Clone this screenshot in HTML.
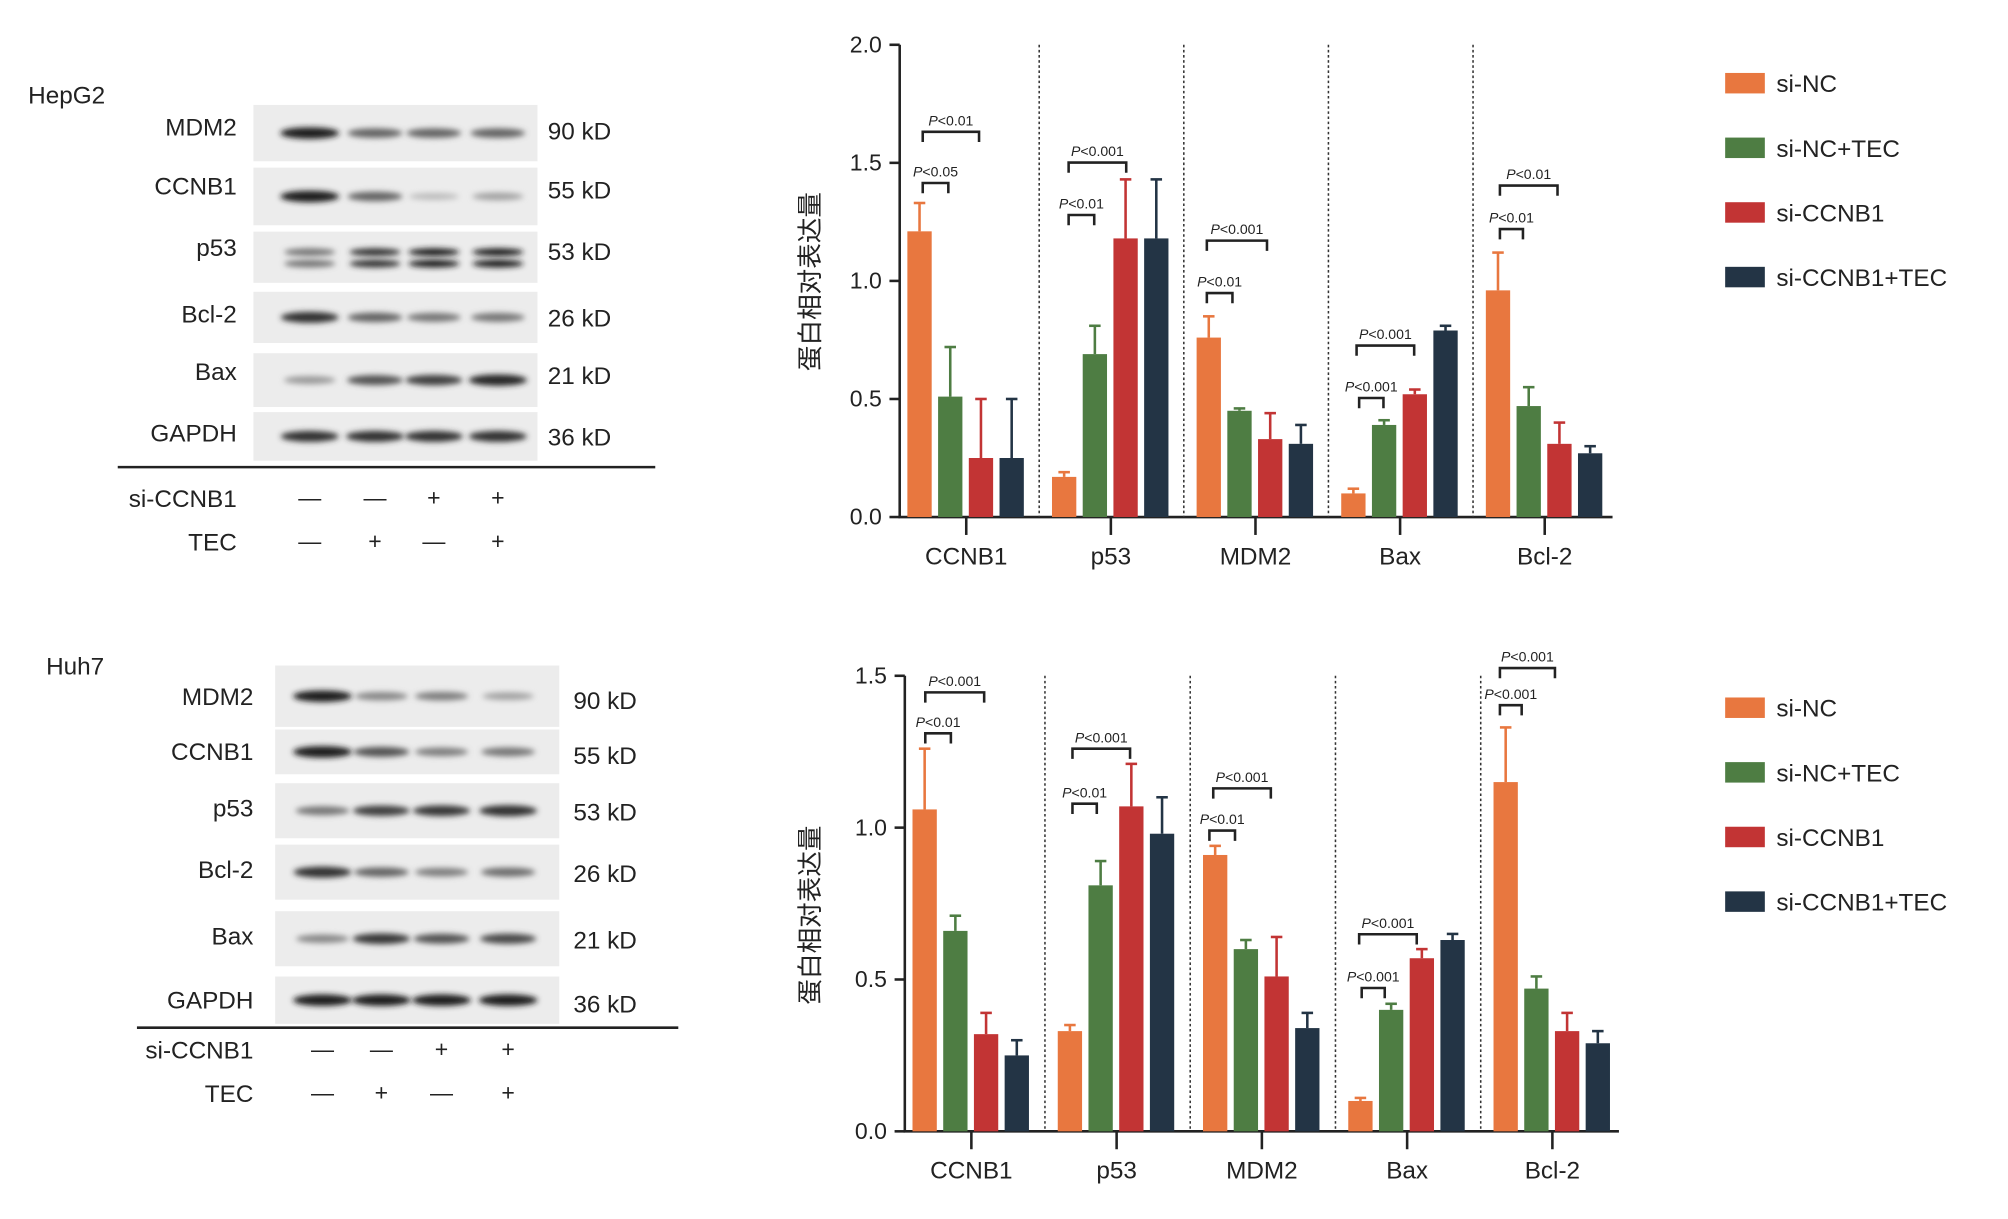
<!DOCTYPE html>
<html><head><meta charset="utf-8"><style>
html,body{margin:0;padding:0;background:#fff;width:2008px;height:1219px;overflow:hidden}
svg{display:block}
text{font-family:"Liberation Sans","Noto Sans CJK SC",sans-serif;fill:#222}
</style></head><body>
<svg id="s" width="2008" height="1219" viewBox="0 0 1569 952.5" xmlns="http://www.w3.org/2000/svg">
<defs><filter id="bl" x="-50%" y="-100%" width="200%" height="300%"><feGaussianBlur stdDeviation="2.2"/></filter></defs>
</svg>
<script>
const S=document.getElementById('s');let h='';
const C=['#E8773F','#4E7D43','#C23434','#233445'];
function t(x,y,s,sz,anc,extra){h+=`<text x="${x}" y="${y}" font-size="${sz}" text-anchor="${anc||'start'}" ${extra||''}>${s}</text>`;}
function l(x1,y1,x2,y2,w,c,d){h+=`<line x1="${x1}" y1="${y1}" x2="${x2}" y2="${y2}" stroke="${c||'#222'}" stroke-width="${w||1.5}" ${d?'stroke-dasharray="'+d+'"':''}/>`;}
function blot(cfg){
 t(cfg.lx,cfg.ly,cfg.name,19);
 cfg.rows.forEach(r=>{
  h+=`<rect x="${cfg.bx}" y="${r.y}" width="${cfg.bw}" height="${r.h}" fill="#ececec"/>`;
  const cy=r.y+r.h*0.5;
  r.v.forEach((v,i)=>{const x=cfg.lanes[i];const c=Math.round(205-175*v);
   if(r.dbl){h+=`<ellipse cx="${x}" cy="${cy-4}" rx="20" ry="3" fill="rgb(${c},${c},${c})" filter="url(#bl)"/><ellipse cx="${x}" cy="${cy+5}" rx="20" ry="3" fill="rgb(${c},${c},${c})" filter="url(#bl)"/>`;}
   else h+=`<ellipse cx="${x}" cy="${cy}" rx="${19+v*4}" ry="${2.5+v*2}" fill="rgb(${c},${c},${c})" filter="url(#bl)"/>`;});
  t(cfg.tx,r.ty,r.n,19,'end');t(cfg.kx,r.ty+3,r.kd,19);
 });
 l(cfg.x1,cfg.hy,cfg.x2,cfg.hy,2);
 t(cfg.tx,cfg.sy+7,'si-CCNB1',19,'end');t(cfg.tx,cfg.sy+41,'TEC',19,'end');
 const s1=['—','—','+','+'],s2=['—','+','—','+'];
 cfg.lanes.forEach((x,i)=>{t(x,cfg.sy+6,s1[i],18,'middle');t(x,cfg.sy+40,s2[i],18,'middle');});
}
blot({name:'HepG2',lx:22,ly:81,bx:198,bw:222,tx:185,kx:428,lanes:[242,293,339,389],hy:365,x1:92,x2:512,sy:389,rows:[
 {n:'MDM2',kd:'90 kD',y:82,h:44,ty:106,v:[1,.6,.6,.6]},
 {n:'CCNB1',kd:'55 kD',y:131,h:45,ty:152,v:[1,.6,.1,.25]},
 {n:'p53',kd:'53 kD',y:181,h:40,ty:200,v:[.5,.9,1,1],dbl:1},
 {n:'Bcl-2',kd:'26 kD',y:228,h:40,ty:252,v:[.9,.6,.5,.5]},
 {n:'Bax',kd:'21 kD',y:276,h:42,ty:297,v:[.3,.7,.8,.95]},
 {n:'GAPDH',kd:'36 kD',y:322,h:38,ty:345,v:[.9,.9,.9,.9]}]});
blot({name:'Huh7',lx:36,ly:527,bx:215,bw:222,tx:198,kx:448,lanes:[252,298,345,397],hy:803,x1:107,x2:530,sy:820,rows:[
 {n:'MDM2',kd:'90 kD',y:520,h:48,ty:551,v:[1,.4,.45,.25]},
 {n:'CCNB1',kd:'55 kD',y:570,h:35,ty:594,v:[1,.7,.45,.5]},
 {n:'p53',kd:'53 kD',y:612,h:43,ty:638,v:[.5,.8,.85,.9]},
 {n:'Bcl-2',kd:'26 kD',y:660,h:43,ty:686,v:[.9,.6,.45,.55]},
 {n:'Bax',kd:'21 kD',y:712,h:43,ty:738,v:[.4,.85,.7,.75]},
 {n:'GAPDH',kd:'36 kD',y:763,h:37,ty:788,v:[1,1,1,1]}]});
function chart(c){
 const Y=v=>c.y0-v*c.u;
 l(c.ax,c.ytop,c.ax,c.y0,2);l(c.ax-1,c.y0,c.xe,c.y0,2);
 c.ticks.forEach(v=>{l(c.ax-8,Y(v),c.ax,Y(v),2);t(c.ax-14,Y(v)+6,v.toFixed(1),18,'end');});
 h+=`<text x="0" y="0" font-size="20" text-anchor="middle" transform="translate(${c.ylx},${c.yly}) rotate(-90)">蛋白相对表达量</text>`;
 const names=['CCNB1','p53','MDM2','Bax','Bcl-2'];
 c.data.forEach((g,gi)=>{
  const gx=c.g0+gi*c.gs;
  g.forEach((d,i)=>{const x=gx+i*24;
   l(x+9.5,Y(d[1]),x+9.5,Y(d[0]),2,C[i]);l(x+5,Y(d[1]),x+14,Y(d[1]),2,C[i]);
   h+=`<rect x="${x}" y="${Y(d[0])}" width="19" height="${d[0]*c.u}" fill="${C[i]}"/>`;});
  const cx=gx+46;l(cx,c.y0,cx,c.y0+14,2);t(cx,c.y0+37,names[gi],19,'middle');
  if(gi<4){const sx=gx+c.gs-10;l(sx,c.ytop,sx,c.y0,1.2,'#333','2,2');}
 });
 c.br.forEach(b=>{h+=`<path d="M${b[0]} ${b[2]+8}V${b[2]}H${b[1]}V${b[2]+8}" fill="none" stroke="#222" stroke-width="2"/>`;
  h+=`<text x="${(b[0]+b[1])/2}" y="${b[2]-5}" font-size="11" text-anchor="middle"><tspan font-style="italic">P</tspan>&lt;${b[3]}</text>`;});
 ['si-NC','si-NC+TEC','si-CCNB1','si-CCNB1+TEC'].forEach((n,i)=>{const y=c.ly+i*50.5;
  h+=`<rect x="1348" y="${y-8}" width="31" height="16" fill="${C[i]}"/>`;t(1388,y+7,n,19);});
}
chart({ax:703,y0:404,u:184.5,ytop:35,xe:1260,ticks:[0,.5,1,1.5,2],ylx:640,yly:220,g0:709,gs:113,ly:65,
 data:[[[1.21,1.33],[.51,.72],[.25,.5],[.25,.5]],[[.17,.19],[.69,.81],[1.18,1.43],[1.18,1.43]],[[.76,.85],[.45,.46],[.33,.44],[.31,.39]],[[.10,.12],[.39,.41],[.52,.54],[.79,.81]],[[.96,1.12],[.47,.55],[.31,.4],[.27,.3]]],
 br:[[721,741,143,'0.05'],[721,765,103,'0.01'],[835,855,168,'0.01'],[835,880,127,'0.001'],[943,963,229,'0.01'],[943,990,188,'0.001'],[1062,1081,311,'0.001'],[1060,1105,270,'0.001'],[1172,1190,179,'0.01'],[1172,1217,145,'0.01']]});
chart({ax:707,y0:884,u:237.3,ytop:528,xe:1265,ticks:[0,.5,1,1.5],ylx:640,yly:715,g0:713,gs:113.5,ly:553,
 data:[[[1.06,1.26],[.66,.71],[.32,.39],[.25,.3]],[[.33,.35],[.81,.89],[1.07,1.21],[.98,1.1]],[[.91,.94],[.6,.63],[.51,.64],[.34,.39]],[[.10,.11],[.40,.42],[.57,.6],[.63,.65]],[[1.15,1.33],[.47,.51],[.33,.39],[.29,.33]]],
 br:[[723,743,573,'0.01'],[723,769,541,'0.001'],[838,857,628,'0.01'],[838,883,585,'0.001'],[945,965,649,'0.01'],[948,993,616,'0.001'],[1064,1082,772,'0.001'],[1062,1107,730,'0.001'],[1172,1189,551,'0.001'],[1172,1215,522,'0.001']]});
S.insertAdjacentHTML('beforeend',h);
</script>
</body></html>
